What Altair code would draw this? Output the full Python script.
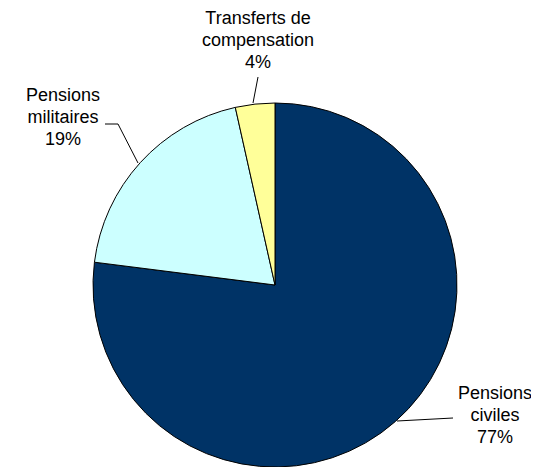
import altair as alt
import pandas as pd

# Data
categories = ["Pensions civiles", "Pensions militaires", "Transferts de compensation"]
values = [77.0, 19.5, 3.5]
pct_labels = ["77%", "19%", "4%"]
label_lines = [["Pensions", "civiles", "77%"],
               ["Pensions", "militaires", "19%"],
               ["Transferts de", "compensation", "4%"]]
colors = ["#003366", "#CCFFFF", "#FFFF99"]

df = pd.DataFrame({"cat": categories, "val": values, "idx": [0, 1, 2]})

CX, CY, R = 267, 277, 182
FONT = "Liberation Sans"

pie = alt.Chart(df).mark_arc(stroke="black", strokeWidth=1, outerRadius=R).encode(
    theta=alt.Theta("val:Q", stack=True),
    order=alt.Order("idx:Q"),
    color=alt.Color("cat:N", scale=alt.Scale(domain=categories, range=colors), legend=None),
    x=alt.value(CX),
    y=alt.value(CY),
)

# label placements (annotation positions, chart pixels)
label_pos = [(487, 377), (55, 79), (250, 2)]

layers = [pie]
for lines, (lx, ly) in zip(label_lines, label_pos):
    layers.append(
        alt.Chart(pd.DataFrame({"t": [0]})).mark_text(
            text=lines, font=FONT, fontSize=18, lineHeight=22, align="center",
            baseline="top", color="black"
        ).encode(x=alt.value(lx), y=alt.value(ly))
    )

segments = [
    ((97, 116), (110, 116)),
    ((110, 116), (130, 155)),
    ((250, 69), (245, 95)),
    ((445, 410), (389, 413)),
]
for (x1, y1), (x2, y2) in segments:
    layers.append(
        alt.Chart(pd.DataFrame({"t": [0]})).mark_rule(color="black", strokeWidth=1).encode(
            x=alt.value(x1), y=alt.value(y1), x2=alt.value(x2), y2=alt.value(y2)
        )
    )

chart = alt.layer(*layers).properties(
    width=523, height=459, autosize=alt.AutoSizeParams(type="none"), padding=0
).configure_view(stroke=None)

chart.save("out.html", embed_options={"renderer": "svg", "actions": False})
